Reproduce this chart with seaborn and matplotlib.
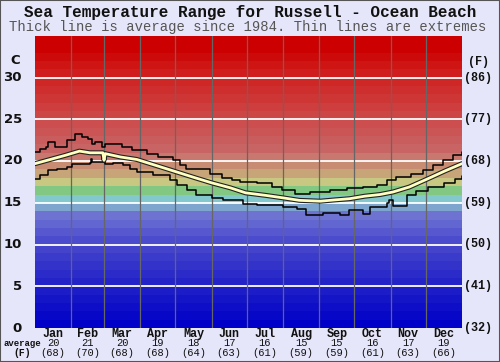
import numpy as np
import pandas as pd
import matplotlib
matplotlib.use('Agg')
import matplotlib.pyplot as plt
import seaborn as sns
from matplotlib.patches import Rectangle

# ---- data (day of year, deg C) ----
avg_day = [0, 13, 26, 38, 47, 56, 58, 59, 60, 73, 87, 103, 120, 137, 151, 167, 180,
           197, 212, 226, 244, 256, 269, 282, 295, 306, 320, 336, 350, 365]
avg_temp = [19.7, 20.2, 20.7, 21.2, 21.0, 21.0, 21.0, 20.1, 20.9, 20.5, 20.2, 19.5, 18.75,
            18.0, 17.4, 16.8, 16.2, 15.9, 15.6, 15.3, 15.2, 15.35, 15.5, 15.8, 16.0, 16.3,
            16.9, 17.9, 18.8, 19.7]

max_day = [0, 4, 9, 11, 17, 27, 34, 40, 45, 49, 51, 57, 60, 74, 83, 96, 105, 118, 124,
           129, 150, 160, 168, 175, 190, 203, 211, 222, 235, 252, 267, 280, 292, 301, 309,
           321, 332, 340, 349, 357, 365]
max_temp = [21.1, 21.4, 21.7, 22.3, 21.7, 22.5, 23.2, 22.9, 22.7, 22.1, 22.3, 21.7, 22.0,
            21.7, 21.3, 20.9, 20.5, 20.1, 19.5, 19.1, 18.5, 18.0, 17.7, 17.5, 17.35, 16.95,
            16.6, 16.1, 16.35, 16.6, 16.75, 16.95, 17.1, 17.7, 18.15, 18.5, 18.9, 19.5,
            20.1, 20.7, 21.1]

min_day = [0, 4, 11, 19, 27, 32, 47, 48, 49, 60, 67, 75, 81, 87, 101, 115, 121, 130, 138,
           151, 161, 167, 178, 190, 212, 224, 232, 246, 261, 268, 280, 286, 301, 303, 306,
           318, 326, 336, 350, 359, 365]
min_temp = [17.9, 18.3, 18.9, 19.1, 19.3, 19.7, 19.8, 20.2, 19.95, 19.7, 19.8, 19.5, 19.1,
            18.75, 18.3, 17.7, 17.1, 16.5, 15.9, 15.6, 15.4, 15.3, 14.9, 14.7, 14.55, 14.3,
            13.6, 13.75, 13.6, 14.2, 13.7, 14.55, 15.0, 15.3, 14.6, 16.0, 16.4, 16.9, 17.35,
            17.9, 18.2]

months = ['Jan', 'Feb', 'Mar', 'Apr', 'May', 'Jun', 'Jul', 'Aug', 'Sep', 'Oct', 'Nov', 'Dec']
month_avg_c = [20, 21, 20, 19, 18, 17, 16, 15, 15, 16, 17, 19]
month_avg_f = [68, 70, 68, 68, 64, 63, 61, 59, 59, 61, 63, 66]
c_ticks = [0, 5, 10, 15, 20, 25, 30]
f_ticks = [32, 41, 50, 59, 68, 77, 86]

month_start = np.cumsum([0, 31, 28, 31, 30, 31, 30, 31, 31, 30, 31, 30, 31])

# ---- colour bands, one per degree ----
anchors = {0: (0, 0, 200), 5: (35, 35, 200), 10: (75, 75, 205), 13: (110, 115, 210),
           14: (125, 165, 205), 15: (130, 200, 205), 16: (130, 200, 130),
           17: (200, 200, 130), 18: (200, 165, 120), 19: (200, 140, 115),
           20: (200, 120, 110), 21: (200, 100, 100), 25: (205, 70, 70),
           30: (208, 30, 30), 33: (204, 0, 0), 34: (204, 0, 0)}
keys = sorted(anchors)
band_cols = []
for d in range(35):
    rgb = [np.interp(d, keys, [anchors[k][i] for k in keys]) / 255 for i in range(3)]
    band_cols.append(rgb)

bg = '#E6E6FA'
W, H = 500, 362
fig = plt.figure(figsize=(W / 100, H / 100), dpi=100, facecolor=bg)
ax = fig.add_axes([35 / W, 1 - 328 / H, (462 - 35) / W, (328 - 36) / H])
sns.set_style('white')
plt.rcParams['font.family'] = ['Liberation Mono', 'DejaVu Sans']

for d, c in enumerate(band_cols):
    ax.axhspan(d, d + 1, color=c, lw=0, zorder=0)
for t in c_ticks[1:]:
    ax.axhline(t, color='white', lw=1.3, zorder=1)
for m in month_start[1:-1]:
    ax.axvline(m, color='#666666', lw=0.9, zorder=1)

avg_df = pd.DataFrame({'day': avg_day, 'temp': avg_temp})
max_df = pd.DataFrame({'day': max_day, 'temp': max_temp})
min_df = pd.DataFrame({'day': min_day, 'temp': min_temp})

sns.lineplot(data=max_df, x='day', y='temp', ax=ax, color='black', lw=1.1,
             drawstyle='steps-post', estimator=None, zorder=3)
sns.lineplot(data=min_df, x='day', y='temp', ax=ax, color='black', lw=1.1,
             drawstyle='steps-post', estimator=None, zorder=3)
sns.lineplot(data=avg_df, x='day', y='temp', ax=ax, color='#222222', lw=3.6,
             estimator=None, zorder=4)
sns.lineplot(data=avg_df, x='day', y='temp', ax=ax, color='#FFFFC0', lw=2.0,
             estimator=None, zorder=5)

ax.set_xlim(0, 365)
ax.set_ylim(0, 35)
ax.set_xticks([])
ax.set_yticks([])
ax.set_xlabel('')
ax.set_ylabel('')
for s in ax.spines.values():
    s.set_visible(False)


def px(x, y):
    return x / W, 1 - y / H


# titles
fig.text(*px(250, 12), 'Sea Temperature Range for Russell - Ocean Beach', ha='center',
         va='center', fontsize=11.5, fontweight='bold', color='#111111')
fig.text(*px(248, 27), 'Thick line is average since 1984. Thin lines are extremes',
         ha='center', va='center', fontsize=10, color='#555555')

# left C axis
for t in c_ticks:
    fig.text(*px(22, 328 - t * 8.35), str(t), ha='right', va='center', fontsize=9.5,
             fontweight='bold', family='DejaVu Sans', color='#111111')
fig.text(*px(15, 60), 'C', ha='center', va='center', fontsize=9.5, fontweight='bold',
         family='DejaVu Sans', color='#111111')

# right F axis
for t, f in zip(c_ticks, f_ticks):
    fig.text(*px(464, 328 - t * 8.35), f'({f})', ha='left', va='center', fontsize=8.5,
             fontweight='bold', color='#111111')
fig.text(*px(478, 62), '(F)', ha='center', va='center', fontsize=8.5, fontweight='bold',
         color='#111111')

# month labels
for i, m in enumerate(months):
    xc = 35 + (month_start[i] + month_start[i + 1]) / 2 * (427 / 365)
    fig.text(*px(xc, 334), m, ha='center', va='center', fontsize=8.5, fontweight='bold',
             color='#111111')
    fig.text(*px(xc, 343.5), str(month_avg_c[i]), ha='center', va='center', fontsize=7.5,
             color='#111111')
    fig.text(*px(xc, 352.5), f'({month_avg_f[i]})', ha='center', va='center', fontsize=7.5,
             color='#111111')
fig.text(*px(22, 343.5), 'average', ha='center', va='center', fontsize=6.5,
         fontweight='bold', color='#111111')
fig.text(*px(22, 352.5), '(F)', ha='center', va='center', fontsize=7,
         fontweight='bold', color='#111111')

fig.patches.append(Rectangle((0, 0), 1, 1, transform=fig.transFigure, fill=False,
                             edgecolor='#555555', lw=1.5))

fig.savefig('out.png', dpi=100, facecolor=bg)
